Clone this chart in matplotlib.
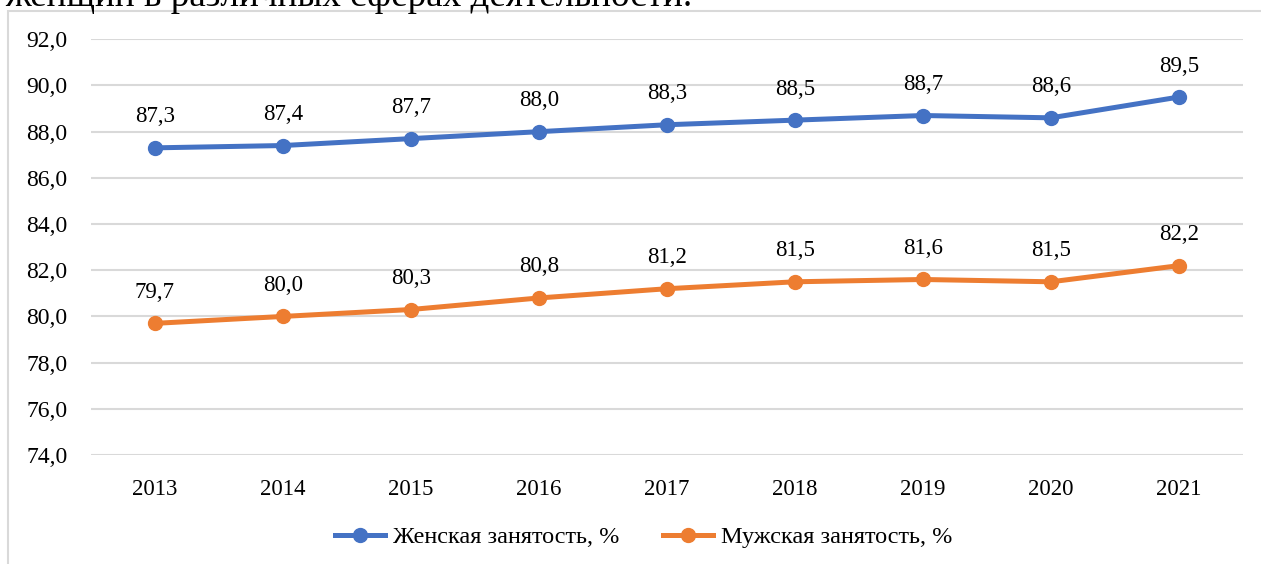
import matplotlib
matplotlib.use("Agg")
import matplotlib.pyplot as plt
from matplotlib.patches import Rectangle

plt.rcParams['font.family'] = ['Liberation Serif', 'DejaVu Serif']

years = ['2013', '2014', '2015', '2016', '2017', '2018', '2019', '2020', '2021']
women = [87.3, 87.4, 87.7, 88.0, 88.3, 88.5, 88.7, 88.6, 89.5]
men = [79.7, 80.0, 80.3, 80.8, 81.2, 81.5, 81.6, 81.5, 82.2]
yticks = [74, 76, 78, 80, 82, 84, 86, 88, 90, 92]

W, H = 1261, 564
fig = plt.figure(figsize=(W / 100, H / 100), dpi=100)
ax = fig.add_axes([91 / W, 1 - 455 / H, (1243 - 91) / W, (455 - 39.3) / H])

# cut-off caption line above the chart
fig.text(5 / W, 1 - 6 / H, 'женщин в различных сферах деятельности.',
         fontsize=26.7, va='baseline', ha='left', color='black')

# light frame around the chart area
fig.patches.append(Rectangle((8 / W, -0.1), 1.2, 1 - 11 / H + 0.1,
                             transform=fig.transFigure, fill=False,
                             edgecolor='#d9d9d9', lw=1.5))

x = list(range(len(years)))
blue = '#4472c4'
orange = '#ed7d31'
ax.plot(x, women, color=blue, lw=3.6, marker='o', ms=10, label='Женская занятость, %', zorder=3)
ax.plot(x, men, color=orange, lw=3.6, marker='o', ms=10, label='Мужская занятость, %', zorder=3)

for xi, v in zip(x, women):
    ax.annotate(f'{v:.1f}'.replace('.', ','), (xi, v), xytext=(0, 31),
                textcoords='offset pixels', ha='center', va='center', fontsize=16.5)
for xi, v in zip(x, men):
    ax.annotate(f'{v:.1f}'.replace('.', ','), (xi, v), xytext=(0, 31),
                textcoords='offset pixels', ha='center', va='center', fontsize=16.5)

ax.set_xlim(-0.5, len(years) - 0.5)
ax.set_ylim(74, 92)
ax.set_xticks(x)
ax.set_xticklabels(years)
ax.set_yticks(yticks)
ax.set_yticklabels([f'{t:.1f}'.replace('.', ',') for t in yticks])
ax.tick_params(axis='both', length=0)
ax.tick_params(axis='y', pad=17, labelsize=17)
ax.tick_params(axis='x', pad=17, labelsize=16.5)
ax.grid(axis='y', color='#d9d9d9', lw=1.5)
ax.set_axisbelow(True)
for s in ax.spines.values():
    s.set_visible(False)

fig.legend(loc='center', bbox_to_anchor=(644 / W, 1 - 537 / H), ncol=2, frameon=False,
           fontsize=17.5, handlelength=2.05, handletextpad=0.33, columnspacing=1.8)

fig.savefig('out.png', dpi=100)
